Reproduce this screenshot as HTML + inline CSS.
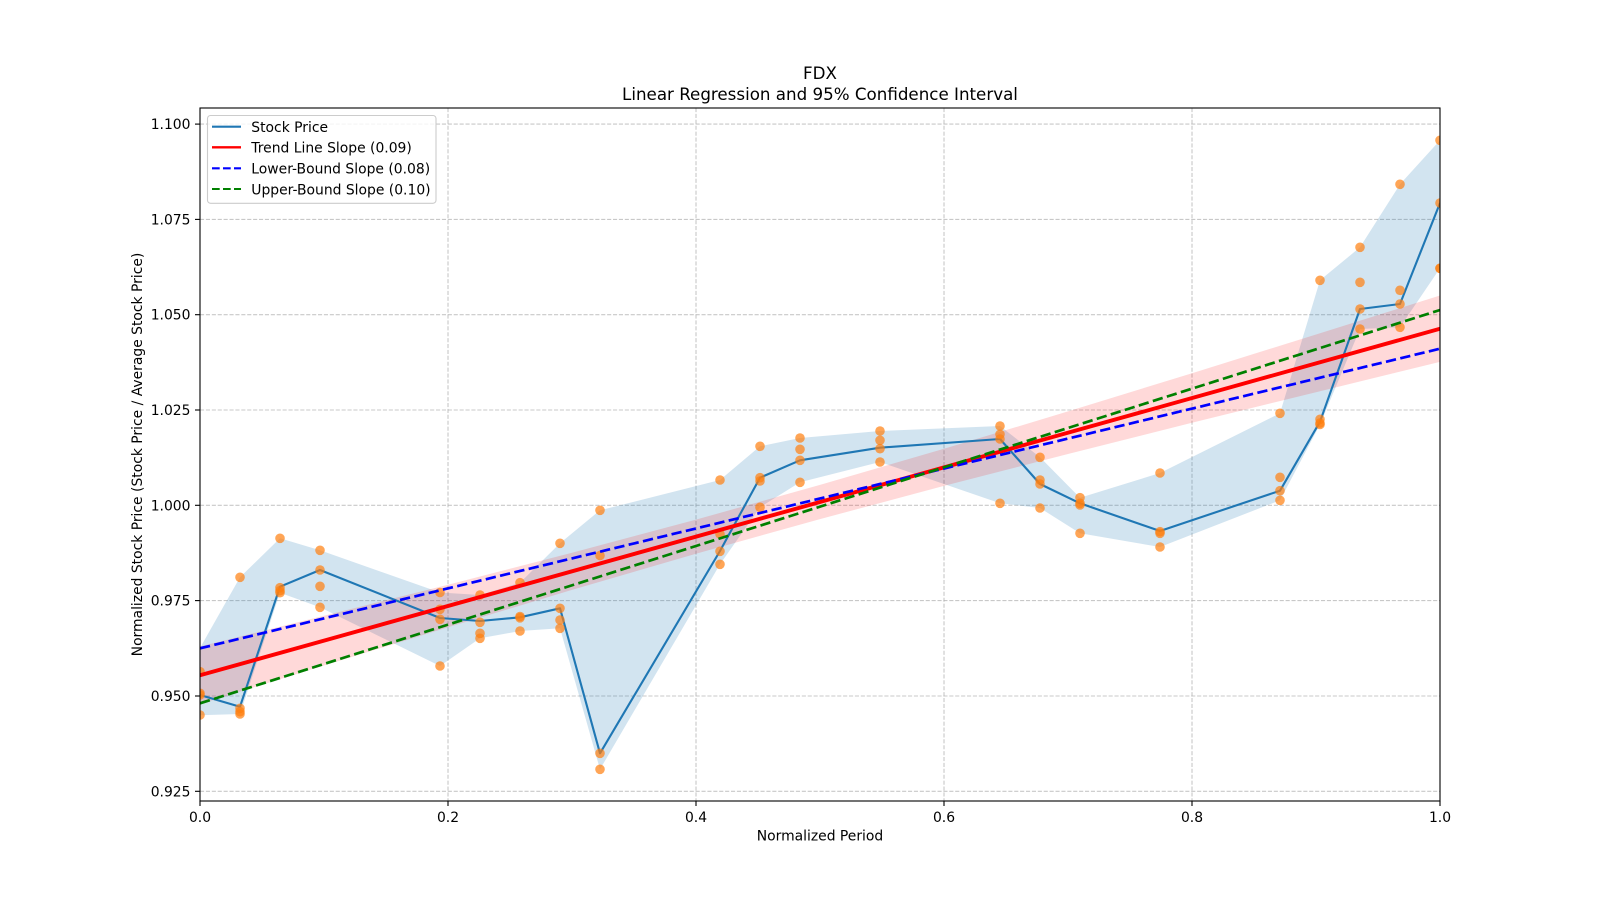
<!DOCTYPE html>
<html>
<head>
<meta charset="utf-8">
<style>
  html, body { margin: 0; padding: 0; background: #ffffff; }
  svg { display: block; }
  text { font-family: "DejaVu Sans", "Liberation Sans", sans-serif; fill: #000; }
</style>
</head>
<body>
<svg width="1600" height="900" viewBox="0 0 1600 900" xmlns="http://www.w3.org/2000/svg">
  <defs>
    <clipPath id="ax">
      <rect x="200" y="108" width="1240" height="693"/>
    </clipPath>
  </defs>
  <rect x="0" y="0" width="1600" height="900" fill="#ffffff"/>

  <!-- grid -->
  <g stroke="#b0b0b0" stroke-opacity="0.7" stroke-width="1.1" stroke-dasharray="4.1 1.8" fill="none">
    <line x1="200" y1="791.3" x2="1440" y2="791.3"/>
    <line x1="200" y1="696.0" x2="1440" y2="696.0"/>
    <line x1="200" y1="600.6" x2="1440" y2="600.6"/>
    <line x1="200" y1="505.3" x2="1440" y2="505.3"/>
    <line x1="200" y1="410.0" x2="1440" y2="410.0"/>
    <line x1="200" y1="314.7" x2="1440" y2="314.7"/>
    <line x1="200" y1="219.4" x2="1440" y2="219.4"/>
    <line x1="200" y1="124.1" x2="1440" y2="124.1"/>
    <line x1="448" y1="108" x2="448" y2="801"/>
    <line x1="696" y1="108" x2="696" y2="801"/>
    <line x1="944" y1="108" x2="944" y2="801"/>
    <line x1="1192" y1="108" x2="1192" y2="801"/>
  </g>

  <g clip-path="url(#ax)">
    <!-- stock band -->
    <polygon fill="#1f77b4" fill-opacity="0.2" points="
      200,648 240,577.3 280,538.3 320,550.3 440,592.5 480,595 520,582.7 560,543.3 600,510.3
      720,480 760,446.3 800,438 880,431 1000,426 1040,457.3 1080,497.7 1160,473 1280,413.3
      1320,280.3 1360,247.3 1400,184.3 1440,140.3
      1440,268.3 1400,327.3 1360,329 1320,424.5 1280,500.3 1160,547 1080,533.3 1040,508
      1000,503.3 880,462 800,482.3 760,507.3 720,564.3 600,769.3 560,628.3 520,631 480,638.3
      440,666 320,607.3 280,592.7 240,714 200,715.3"/>

    <!-- regression CI band -->
    <polygon fill="#ff0000" fill-opacity="0.15" points="
      200,646.5 324,615.8 448,584.7 572,552.7 696,519.6 820,484.9 944,448.8 1068,411.4 1192,373.2 1316,334.5 1440,295.5
      1440,361.9 1316,392.2 1192,422.8 1068,454.0 944,485.9 820,519.1 696,553.7 572,589.9 448,627.3 324,665.5 200,704.1"/>

    <!-- stock price line -->
    <polyline fill="none" stroke="#1f77b4" stroke-width="2.1" stroke-linejoin="round" points="
      200,695 240,706.7 280,586.7 320,570 440,618 480,621 520,617.3 560,608.3 600,753.3
      720,551 760,477.7 800,460.3 880,447.7 1000,439 1040,484 1080,503.3 1160,531 1280,490.7
      1320,421.7 1360,309 1400,304 1440,203"/>

    <!-- scatter -->
    <g fill="#ff7f0e" fill-opacity="0.7">
      <circle cx="200" cy="671.7" r="4.8"/><circle cx="200" cy="693.3" r="4.8"/><circle cx="200" cy="695" r="4.8"/><circle cx="200" cy="715" r="4.8"/>
      <circle cx="240" cy="577.3" r="4.8"/><circle cx="240" cy="708.3" r="4.8"/><circle cx="240" cy="711.7" r="4.8"/><circle cx="240" cy="714" r="4.8"/>
      <circle cx="280" cy="538.3" r="4.8"/><circle cx="280" cy="587.7" r="4.8"/><circle cx="280" cy="590.7" r="4.8"/><circle cx="280" cy="592.7" r="4.8"/>
      <circle cx="320" cy="550.3" r="4.8"/><circle cx="320" cy="570" r="4.8"/><circle cx="320" cy="586.3" r="4.8"/><circle cx="320" cy="607.3" r="4.8"/>
      <circle cx="440" cy="592.5" r="4.8"/><circle cx="440" cy="609.3" r="4.8"/><circle cx="440" cy="619.3" r="4.8"/><circle cx="440" cy="666" r="4.8"/>
      <circle cx="480" cy="595" r="4.8"/><circle cx="480" cy="622.3" r="4.8"/><circle cx="480" cy="633.3" r="4.8"/><circle cx="480" cy="638.3" r="4.8"/>
      <circle cx="520" cy="582.7" r="4.8"/><circle cx="520" cy="616.5" r="4.8"/><circle cx="520" cy="617.8" r="4.8"/><circle cx="520" cy="631" r="4.8"/>
      <circle cx="560" cy="543.3" r="4.8"/><circle cx="560" cy="608.3" r="4.8"/><circle cx="560" cy="620" r="4.8"/><circle cx="560" cy="628.3" r="4.8"/>
      <circle cx="600" cy="510.3" r="4.8"/><circle cx="600" cy="555.5" r="4.8"/><circle cx="600" cy="753.3" r="4.8"/><circle cx="600" cy="769.3" r="4.8"/>
      <circle cx="720" cy="480" r="4.8"/><circle cx="720" cy="534" r="4.8"/><circle cx="720" cy="551.3" r="4.8"/><circle cx="720" cy="564.3" r="4.8"/>
      <circle cx="760" cy="446.3" r="4.8"/><circle cx="760" cy="477.7" r="4.8"/><circle cx="760" cy="481" r="4.8"/><circle cx="760" cy="507.3" r="4.8"/>
      <circle cx="800" cy="438" r="4.8"/><circle cx="800" cy="449.3" r="4.8"/><circle cx="800" cy="460.3" r="4.8"/><circle cx="800" cy="482.3" r="4.8"/>
      <circle cx="880" cy="431" r="4.8"/><circle cx="880" cy="440.3" r="4.8"/><circle cx="880" cy="448.7" r="4.8"/><circle cx="880" cy="462" r="4.8"/>
      <circle cx="1000" cy="426" r="4.8"/><circle cx="1000" cy="434.3" r="4.8"/><circle cx="1000" cy="439" r="4.8"/><circle cx="1000" cy="503.3" r="4.8"/>
      <circle cx="1040" cy="457.3" r="4.8"/><circle cx="1040" cy="480" r="4.8"/><circle cx="1040" cy="484" r="4.8"/><circle cx="1040" cy="508" r="4.8"/>
      <circle cx="1080" cy="497.7" r="4.8"/><circle cx="1080" cy="503.3" r="4.8"/><circle cx="1080" cy="505" r="4.8"/><circle cx="1080" cy="533.3" r="4.8"/>
      <circle cx="1160" cy="473" r="4.8"/><circle cx="1160" cy="531.7" r="4.8"/><circle cx="1160" cy="533.3" r="4.8"/><circle cx="1160" cy="547" r="4.8"/>
      <circle cx="1280" cy="413.3" r="4.8"/><circle cx="1280" cy="477.3" r="4.8"/><circle cx="1280" cy="490.7" r="4.8"/><circle cx="1280" cy="500.3" r="4.8"/>
      <circle cx="1320" cy="280.3" r="4.8"/><circle cx="1320" cy="419.3" r="4.8"/><circle cx="1320" cy="423" r="4.8"/><circle cx="1320" cy="424.5" r="4.8"/>
      <circle cx="1360" cy="247.3" r="4.8"/><circle cx="1360" cy="282.3" r="4.8"/><circle cx="1360" cy="309" r="4.8"/><circle cx="1360" cy="329" r="4.8"/>
      <circle cx="1400" cy="184.3" r="4.8"/><circle cx="1400" cy="290.3" r="4.8"/><circle cx="1400" cy="304" r="4.8"/><circle cx="1400" cy="327.3" r="4.8"/>
      <circle cx="1440" cy="140.3" r="4.8"/><circle cx="1440" cy="203" r="4.8"/><circle cx="1440" cy="268.3" r="4.8"/><circle cx="1440" cy="268.3" r="4.8"/>
    </g>

    <!-- trend line -->
    <line x1="200" y1="675.3" x2="1440" y2="328.7" stroke="#ff0000" stroke-width="3.9"/>
    <!-- lower bound -->
    <line x1="200" y1="648.3" x2="1440" y2="348.7" stroke="#0000ff" stroke-width="2.7" stroke-dasharray="10.3 4.4"/>
    <!-- upper bound -->
    <line x1="200" y1="703.3" x2="1440" y2="310" stroke="#008000" stroke-width="2.7" stroke-dasharray="10.3 4.4"/>
  </g>

  <!-- spines -->
  <rect x="200" y="108" width="1240" height="693" fill="none" stroke="#000" stroke-width="1.1"/>

  <!-- ticks -->
  <g stroke="#000" stroke-width="1.1">
    <line x1="200" y1="801" x2="200" y2="806"/>
    <line x1="448" y1="801" x2="448" y2="806"/>
    <line x1="696" y1="801" x2="696" y2="806"/>
    <line x1="944" y1="801" x2="944" y2="806"/>
    <line x1="1192" y1="801" x2="1192" y2="806"/>
    <line x1="1440" y1="801" x2="1440" y2="806"/>
    <line x1="195" y1="791.3" x2="200" y2="791.3"/>
    <line x1="195" y1="696.0" x2="200" y2="696.0"/>
    <line x1="195" y1="600.6" x2="200" y2="600.6"/>
    <line x1="195" y1="505.3" x2="200" y2="505.3"/>
    <line x1="195" y1="410.0" x2="200" y2="410.0"/>
    <line x1="195" y1="314.7" x2="200" y2="314.7"/>
    <line x1="195" y1="219.4" x2="200" y2="219.4"/>
    <line x1="195" y1="124.1" x2="200" y2="124.1"/>
  </g>

  <!-- tick labels -->
  <g font-size="13.9" text-anchor="middle">
    <text x="200" y="822">0.0</text>
    <text x="448" y="822">0.2</text>
    <text x="696" y="822">0.4</text>
    <text x="944" y="822">0.6</text>
    <text x="1192" y="822">0.8</text>
    <text x="1440" y="822">1.0</text>
  </g>
  <g font-size="13.9" text-anchor="end">
    <text x="190.5" y="796.3">0.925</text>
    <text x="190.5" y="701.0">0.950</text>
    <text x="190.5" y="605.6">0.975</text>
    <text x="190.5" y="510.3">1.000</text>
    <text x="190.5" y="415.0">1.025</text>
    <text x="190.5" y="319.7">1.050</text>
    <text x="190.5" y="224.4">1.075</text>
    <text x="190.5" y="129.1">1.100</text>
  </g>

  <!-- axis labels -->
  <text x="820" y="840.5" font-size="13.9" text-anchor="middle">Normalized Period</text>
  <text transform="translate(142,454.5) rotate(-90)" font-size="13.9" text-anchor="middle">Normalized Stock Price (Stock Price / Average Stock Price)</text>

  <!-- title -->
  <text x="820" y="79" font-size="16.7" text-anchor="middle">FDX</text>
  <text x="820" y="100" font-size="16.7" text-anchor="middle">Linear Regression and 95% Confidence Interval</text>

  <!-- legend -->
  <rect x="207.5" y="115.5" width="228.5" height="87.8" rx="3" ry="3" fill="#ffffff" fill-opacity="0.8" stroke="#cccccc" stroke-width="1.1"/>
  <line x1="212" y1="126.7" x2="241" y2="126.7" stroke="#1f77b4" stroke-width="2.1"/>
  <line x1="212" y1="147.3" x2="241" y2="147.3" stroke="#ff0000" stroke-width="2.3"/>
  <line x1="212" y1="168.3" x2="241" y2="168.3" stroke="#0000ff" stroke-width="2.1" stroke-dasharray="7.7 3.3"/>
  <line x1="212" y1="189" x2="241" y2="189" stroke="#008000" stroke-width="2.1" stroke-dasharray="7.7 3.3"/>
  <g font-size="13.9">
    <text x="251.3" y="132">Stock Price</text>
    <text x="251.3" y="152.6">Trend Line Slope (0.09)</text>
    <text x="251.3" y="173.6">Lower-Bound Slope (0.08)</text>
    <text x="251.3" y="194.3">Upper-Bound Slope (0.10)</text>
  </g>
</svg>
</body>
</html>
